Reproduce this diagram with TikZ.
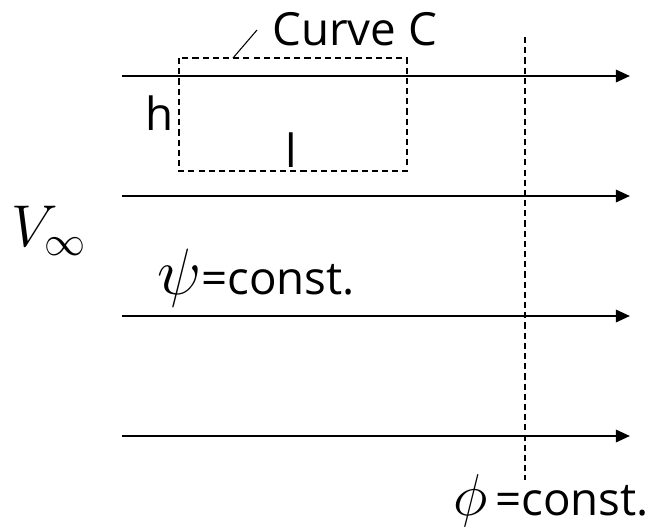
\documentclass[tikz,border=0pt]{standalone}
\usepackage{fontspec}
\setmainfont{Open Sans}
\usetikzlibrary{arrows.meta, positioning}

\begin{document}
\begin{tikzpicture}[
    flow/.style={-{Triangle[length=8pt,width=7pt]}, line width=1.3pt},
    guide/.style={dashed, dash pattern=on 3.5pt off 2.3pt, line width=0.7pt},
    lbl/.style={inner sep=0pt, font=\fontsize{26}{30}\selectfont}
  ]
      \useasboundingbox (0,0) rectangle (13.22,-10.58);

      % streamlines
      \foreach \i/\y in {1/-1.52, 2/-3.92, 3/-6.32, 4/-8.72} {
        \coordinate (s\i) at (2.44,\y);
        \coordinate (e\i) at (12.6,\y);
        \draw[flow] (s\i) -- (e\i);
      }

      % curve C
      \coordinate (c1) at (3.58,-1.16);
      \coordinate (c2) at (8.14,-3.42);
      \draw[guide] (c1) rectangle (c2);
      \coordinate (p) at (4.66,-1.16);
      \node[lbl, anchor=base west] (curve) at (5.44,-0.9) {Curve C};
      \coordinate (q) at (5.14,-0.6);
      \draw[line width=0.6pt] (p) -- (q);
      \node[lbl, anchor=base west] (h) at (2.9,-2.6) {h};
      \node[lbl, anchor=base west] (l) at (5.7,-3.34) {l};

      % equipotential line
      \coordinate (t) at (10.5,-0.74);
      \coordinate (b) at (10.5,-9.6);
      \draw[guide] (t) -- (b);

      \node[lbl] (vinf) at (0.98,-4.62) {\scalebox{1.35}{$V_{\infty}$}};
      \node[lbl, anchor=base west] (psi) at (3.14,-5.88) {\scalebox{1.5}{$\psi$}=const.};
      \node[lbl, anchor=base west] (phi) at (9.06,-10.3) {\scalebox{1.35}{$\phi$}\,=const.};
    \end{tikzpicture}
\end{document}
